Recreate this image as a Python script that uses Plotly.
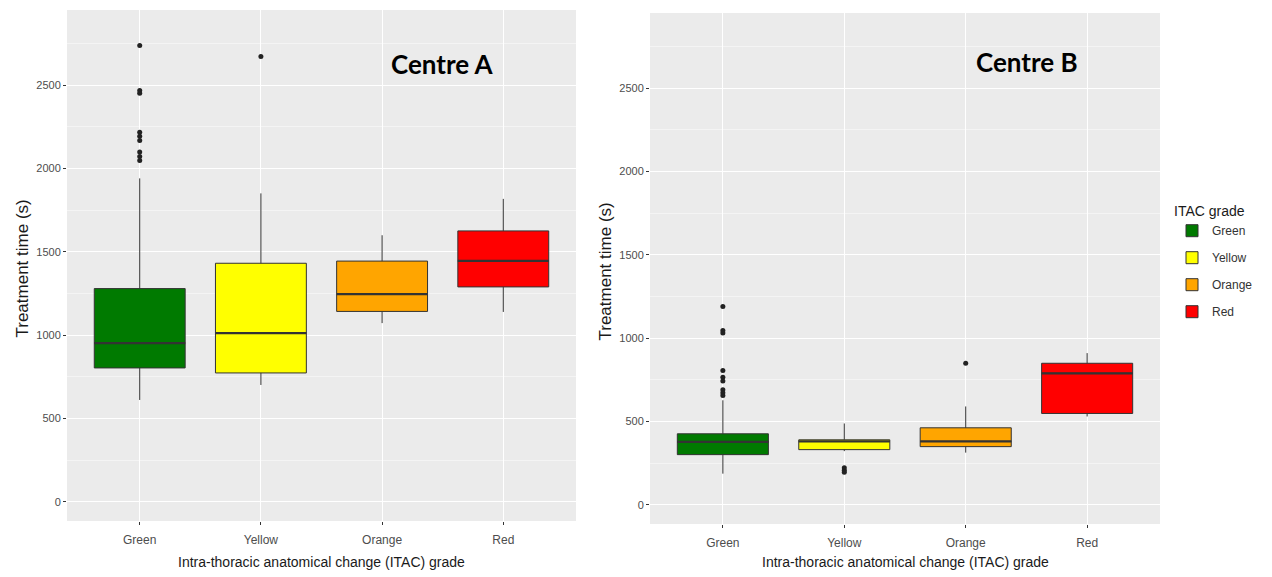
import plotly.graph_objects as go

# ---------------- data ----------------
categories = ["Green", "Yellow", "Orange", "Red"]
fill_colors = ["#007A00", "#FFFF00", "#FFA500", "#FF0000"]

# Centre A (treatment time, s)
a_lower = [611, 701, 1072, 1139]
a_q1 = [803, 773, 1142, 1289]
a_median = [952, 1012, 1246, 1445]
a_q3 = [1279, 1431, 1444, 1625]
a_upper = [1940, 1850, 1599, 1817]
a_outliers = {
    "Green": [2737, 2467, 2450, 2217, 2192, 2168, 2098, 2072, 2048],
    "Yellow": [2671],
    "Orange": [],
    "Red": [],
}

# Centre B (treatment time, s)
b_lower = [187, 322, 313, 530]
b_q1 = [301, 331, 349, 548]
b_median = [378, 380, 380, 789]
b_q3 = [426, 390, 462, 849]
b_upper = [627, 488, 590, 910]
b_outliers = {
    "Green": [1190, 1045, 1030, 805, 765, 742, 690, 672, 655],
    "Yellow": [222, 207, 195],
    "Orange": [849],
    "Red": [],
}

y_ticks = [0, 500, 1000, 1500, 2000, 2500]
panel_titles = ["Centre A", "Centre B"]
x_title = "Intra-thoracic anatomical change (ITAC) grade"
y_title = "Treatment time (s)"
legend_title = "ITAC grade"

# ---------------- figure ----------------
OFF = 8  # page body margin in the browser
W, H = 1272 - OFF, 577 - OFF
BOX_W = 0.75
LINE = "#333333"
FONT = "Liberation Sans"

fig = go.Figure()

panels = [
    dict(xa="x", ya="y", lo=a_lower, q1=a_q1, med=a_median, q3=a_q3, hi=a_upper, out=a_outliers, legend=True),
    dict(xa="x2", ya="y2", lo=b_lower, q1=b_q1, med=b_median, q3=b_q3, hi=b_upper, out=b_outliers, legend=False),
]

for p in panels:
    for i, cat in enumerate(categories):
        fig.add_trace(go.Box(
            x=[i], q1=[p["q1"][i]], median=[p["med"][i]], q3=[p["q3"][i]],
            lowerfence=[p["lo"][i]], upperfence=[p["hi"][i]],
            name=cat, legendgroup=cat, showlegend=p["legend"],
            fillcolor=fill_colors[i], line=dict(color=LINE, width=1),
            whiskerwidth=0, width=BOX_W, boxpoints=False,
            xaxis=p["xa"], yaxis=p["ya"], hoverinfo="skip",
        ))
    # thicker median lines (ggplot style)
    mx, my = [], []
    for i in range(len(categories)):
        mx += [i - BOX_W / 2, i + BOX_W / 2, None]
        my += [p["med"][i], p["med"][i], None]
    fig.add_trace(go.Scatter(x=mx, y=my, mode="lines", line=dict(color=LINE, width=2.2),
                             showlegend=False, xaxis=p["xa"], yaxis=p["ya"], hoverinfo="skip"))
    # outliers
    ox, oy = [], []
    for i, cat in enumerate(categories):
        for v in p["out"][cat]:
            ox.append(i)
            oy.append(v)
    fig.add_trace(go.Scatter(x=ox, y=oy, mode="markers",
                             marker=dict(color="#222222", size=5),
                             showlegend=False, xaxis=p["xa"], yaxis=p["ya"], hoverinfo="skip"))


def px_x(x):
    return (x - OFF) / W


def px_y(y):
    return 1 - (y - OFF) / H


panel_px = [
    dict(x0=67, x1=576, y0=10, y1=521),
    dict(x0=650, x1=1160, y0=13, y1=524),
]

axis_common_x = dict(
    range=[-0.6, 3.6], tickmode="array", tickvals=list(range(len(categories))), ticktext=categories,
    showgrid=True, gridcolor="white", gridwidth=1, zeroline=False, showline=False,
    ticks="outside", ticklen=3, tickcolor="#333333", ticklabelstandoff=5,
    tickfont=dict(family=FONT, size=12, color="#4D4D4D"), fixedrange=True,
)
axis_common_y = dict(
    range=[-115, 2950], tickmode="array", tickvals=y_ticks, ticktext=[str(v) for v in y_ticks],
    showgrid=True, gridcolor="white", gridwidth=1, zeroline=False, showline=False,
    ticks="outside", ticklen=3, tickcolor="#333333",
    tickfont=dict(family=FONT, size=11, color="#4D4D4D"),
    minor=dict(tickmode="array", tickvals=[250, 750, 1250, 1750, 2250, 2750],
               showgrid=True, gridcolor="#F4F4F4", gridwidth=0.7, ticks=""),
)

fig.update_layout(
    width=W, height=H,
    margin=dict(l=0, r=0, t=0, b=0),
    paper_bgcolor="white", plot_bgcolor="#EBEBEB",
    boxmode="overlay",
    font=dict(family=FONT, color="#1A1A1A"),
    xaxis=dict(domain=[px_x(panel_px[0]["x0"]), px_x(panel_px[0]["x1"])], anchor="y", **axis_common_x),
    yaxis=dict(domain=[px_y(panel_px[0]["y1"]), px_y(panel_px[0]["y0"])], anchor="x", **axis_common_y),
    xaxis2=dict(domain=[px_x(panel_px[1]["x0"]), px_x(panel_px[1]["x1"])], anchor="y2", **axis_common_x),
    yaxis2=dict(domain=[px_y(panel_px[1]["y1"]), px_y(panel_px[1]["y0"])], anchor="x2", **axis_common_y),
    legend=dict(
        x=px_x(1172), y=px_y(198), xanchor="left", yanchor="top",
        title=dict(text=legend_title, font=dict(family=FONT, size=14, color="#1A1A1A")),
        font=dict(family=FONT, size=12, color="#333333"),
        bgcolor="rgba(0,0,0,0)", tracegroupgap=8, itemwidth=30,
    ),
)

annos = []
for k, p in enumerate(panel_px):
    cx = (p["x0"] + p["x1"]) / 2
    cy = (p["y0"] + p["y1"]) / 2
    annos.append(dict(text=x_title, x=px_x(cx), y=px_y(562), xref="paper", yref="paper",
                      showarrow=False, xanchor="center", yanchor="middle",
                      font=dict(family=FONT, size=14, color="#1A1A1A")))
    annos.append(dict(text=y_title, x=px_x(p["x0"] - 45), y=px_y(cy + 3), xref="paper", yref="paper",
                      showarrow=False, textangle=-90, xanchor="center", yanchor="middle",
                      font=dict(family=FONT, size=17, color="#1A1A1A")))
annos.append(dict(text="<b>Centre A</b>", x=px_x(442), y=px_y(64), xref="paper", yref="paper",
                  showarrow=False, xanchor="center", yanchor="middle",
                  font=dict(family="Lato", size=26, color="black")))
annos.append(dict(text="<b>Centre B</b>", x=px_x(1027), y=px_y(62), xref="paper", yref="paper",
                  showarrow=False, xanchor="center", yanchor="middle",
                  font=dict(family="Lato", size=26, color="black")))
fig.update_layout(annotations=annos)

fig.write_html("out.html")
